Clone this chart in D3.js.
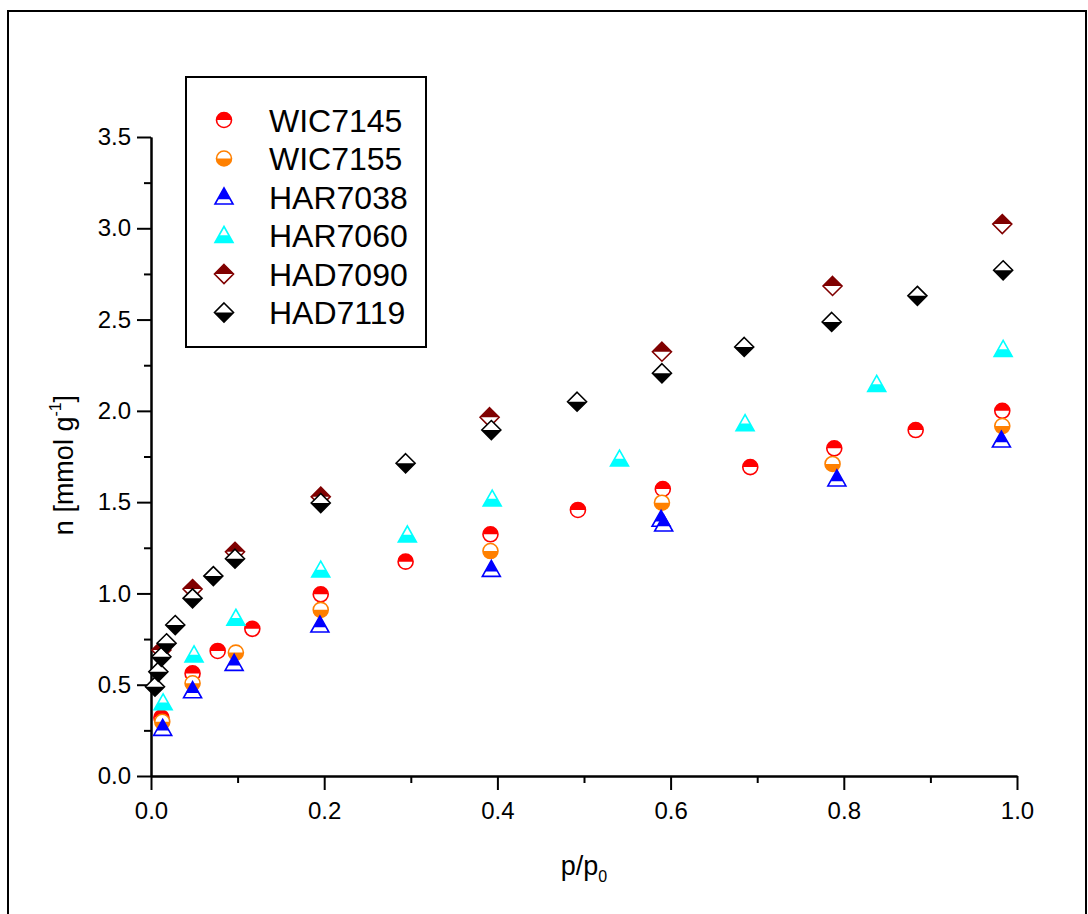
<!DOCTYPE html>
<html>
<head>
<meta charset="utf-8">
<script src="https://cdn.jsdelivr.net/npm/d3@7"></script>
<style>
  body { margin: 0; background: #fff; }
  svg { display: block; font-family: Arial, "Liberation Sans", sans-serif; }
</style>
</head>
<body>
<svg width="1088" height="914"></svg>
<script>
// series names, colours, marker shape and which half is filled
const seriesNames = ['WIC7145', 'WIC7155', 'HAR7038', 'HAR7060', 'HAD7090', 'HAD7119'];
const seriesColors = ['#ff0000', '#ff8000', '#0000ff', '#00ffff', '#800000', '#000000'];
const seriesShapes = ['circle', 'circle', 'triangle', 'triangle', 'diamond', 'diamond'];
const seriesHalf = ['top', 'bottom', 'top', 'bottom', 'top', 'bottom'];

// p/p0 values
const xWIC7145 = [0.012, 0.048, 0.077, 0.117, 0.196, 0.294, 0.392, 0.493, 0.591, 0.692, 0.789, 0.883, 0.983];
const xWIC7155 = [0.013, 0.048, 0.098, 0.196, 0.392, 0.590, 0.787, 0.983];
const xHAR7038 = [0.0135, 0.048, 0.096, 0.195, 0.393, 0.589, 0.592, 0.792, 0.982];
const xHAR7060 = [0.014, 0.0497, 0.098, 0.196, 0.296, 0.394, 0.541, 0.686, 0.838, 0.984];
const xHAD7090 = [0.012, 0.048, 0.097, 0.196, 0.391, 0.590, 0.787, 0.983];
const xHAD7119 = [0.0046, 0.0085, 0.012, 0.018, 0.028, 0.048, 0.072, 0.097, 0.196, 0.294, 0.393, 0.492, 0.590, 0.685, 0.786, 0.885, 0.984];

// n [mmol/g] values
const yWIC7145 = [0.32, 0.562, 0.685, 0.806, 0.995, 1.174, 1.324, 1.457, 1.572, 1.692, 1.795, 1.895, 2.0];
const yWIC7155 = [0.297, 0.508, 0.676, 0.91, 1.232, 1.497, 1.709, 1.917];
const yHAR7038 = [0.261, 0.467, 0.617, 0.827, 1.132, 1.406, 1.38, 1.627, 1.84];
const yHAR7060 = [0.401, 0.663, 0.864, 1.128, 1.32, 1.517, 1.736, 1.93, 2.145, 2.337];
const yHAD7090 = [0.69, 1.024, 1.228, 1.53, 1.965, 2.324, 2.684, 3.023];
const yHAD7119 = [0.489, 0.571, 0.653, 0.727, 0.827, 0.973, 1.095, 1.19, 1.495, 1.713, 1.895, 2.05, 2.206, 2.35, 2.487, 2.63, 2.77];

const xMajor = [0, 0.2, 0.4, 0.6, 0.8, 1.0];
const xMinor = [0.1, 0.3, 0.5, 0.7, 0.9];
const yMajor = [0, 0.5, 1.0, 1.5, 2.0, 2.5, 3.0, 3.5];
const yMinor = [0.25, 0.75, 1.25, 1.75, 2.25, 2.75, 3.25];

const xs = [xWIC7145, xWIC7155, xHAR7038, xHAR7060, xHAD7090, xHAD7119];
const ys = [yWIC7145, yWIC7155, yHAR7038, yHAR7060, yHAD7090, yHAD7119];

const plotLeft = 151, plotRight = 1017, plotTop = 137, plotBottom = 776;

const svg = d3.select('svg');

const x = d3.scaleLinear().domain([0, 1]).range([plotLeft, plotRight]);
const y = d3.scaleLinear().domain([0, 3.5]).range([plotBottom, plotTop]);

// outer frame
svg.append('rect')
  .attr('x', 8).attr('y', 11)
  .attr('width', 1078).attr('height', 940)
  .attr('fill', 'none').attr('stroke', '#000').attr('stroke-width', 2);

// clip paths for half-filled markers (split line as a fraction of the box)
const defs = svg.append('defs');
const addClip = (id, from, to) => defs.append('clipPath')
  .attr('id', id).attr('clipPathUnits', 'objectBoundingBox')
  .append('rect').attr('x', -0.1).attr('y', from).attr('width', 1.2).attr('height', to - from);
addClip('circle-top', -0.1, 0.5);
addClip('circle-bottom', 0.5, 1.1);
addClip('triangle-top', -0.1, 0.7);
addClip('triangle-bottom', 0.55, 1.1);
addClip('diamond-top', -0.1, 0.5);
addClip('diamond-bottom', 0.5, 1.1);

const shapePath = {
  circle: () => { const p = d3.path(); p.arc(0, 0, 7.5, 0, 2 * Math.PI); return p.toString(); },
  triangle: () => 'M0,-9L9,7L-9,7Z',
  diamond: () => 'M0,-9.5L9.5,0L0,9.5L-9.5,0Z'
};

const drawMarker = (g, i) => {
  const d = shapePath[seriesShapes[i]]();
  g.append('path').attr('d', d).attr('fill', '#fff');
  g.append('path').attr('d', d)
    .attr('fill', seriesColors[i])
    .attr('clip-path', `url(#${seriesShapes[i]}-${seriesHalf[i]})`);
  g.append('path').attr('d', d)
    .attr('fill', 'none')
    .attr('stroke', seriesColors[i])
    .attr('stroke-width', 1.6);
};

// axes
const styleAxis = (g) => {
  g.selectAll('path, line').attr('stroke', '#000').attr('stroke-width', 2);
  g.selectAll('text').attr('fill', '#000').attr('font-size', 24);
};

svg.append('g')
  .attr('transform', `translate(0,${plotBottom})`)
  .call(d3.axisBottom(x).tickValues(xMajor).tickSize(14).tickSizeOuter(0).tickPadding(12).tickFormat(d3.format('.1f')))
  .call(styleAxis);
svg.append('g')
  .attr('transform', `translate(0,${plotBottom})`)
  .call(d3.axisBottom(x).tickValues(xMinor).tickSize(7).tickSizeOuter(0).tickFormat(''))
  .call(styleAxis);

svg.append('g')
  .attr('transform', `translate(${plotLeft},0)`)
  .call(d3.axisLeft(y).tickValues(yMajor).tickSize(14).tickSizeOuter(0).tickPadding(6).tickFormat(d3.format('.1f')))
  .call(styleAxis);
svg.append('g')
  .attr('transform', `translate(${plotLeft},0)`)
  .call(d3.axisLeft(y).tickValues(yMinor).tickSize(7).tickSizeOuter(0).tickFormat(''))
  .call(styleAxis);

// points
seriesNames.forEach((name, i) => {
  const pts = xs[i].map((v, k) => [v, ys[i][k]]);
  svg.append('g').selectAll('g')
    .data(pts)
    .enter()
    .append('g')
    .attr('transform', d => `translate(${x(d[0])},${y(d[1])})`)
    .each(function () { drawMarker(d3.select(this), i); });
});

// axis titles
const yTitle = svg.append('text')
  .attr('transform', 'translate(73,465) rotate(-90)')
  .attr('text-anchor', 'middle')
  .attr('font-size', 27);
yTitle.append('tspan').text('n [mmol g');
yTitle.append('tspan').attr('font-size', 16).attr('dy', -12).text('-1');
yTitle.append('tspan').attr('dy', 12).text(']');

const xTitle = svg.append('text')
  .attr('x', (plotLeft + plotRight) / 2).attr('y', 875)
  .attr('text-anchor', 'middle')
  .attr('font-size', 27);
xTitle.append('tspan').text('p/p');
xTitle.append('tspan').attr('font-size', 16).attr('dy', 7).text('0');

// legend
const legend = svg.append('g');
legend.append('rect')
  .attr('x', 186).attr('y', 77)
  .attr('width', 240).attr('height', 270)
  .attr('fill', '#fff').attr('stroke', '#000').attr('stroke-width', 2);

seriesNames.forEach((name, i) => {
  const row = legend.append('g').attr('transform', `translate(224,${120 + i * 38.5})`);
  drawMarker(row, i);
  row.append('text')
    .attr('x', 45).attr('y', 11.5)
    .attr('font-size', 32)
    .text(name);
});
</script>
</body>
</html>
